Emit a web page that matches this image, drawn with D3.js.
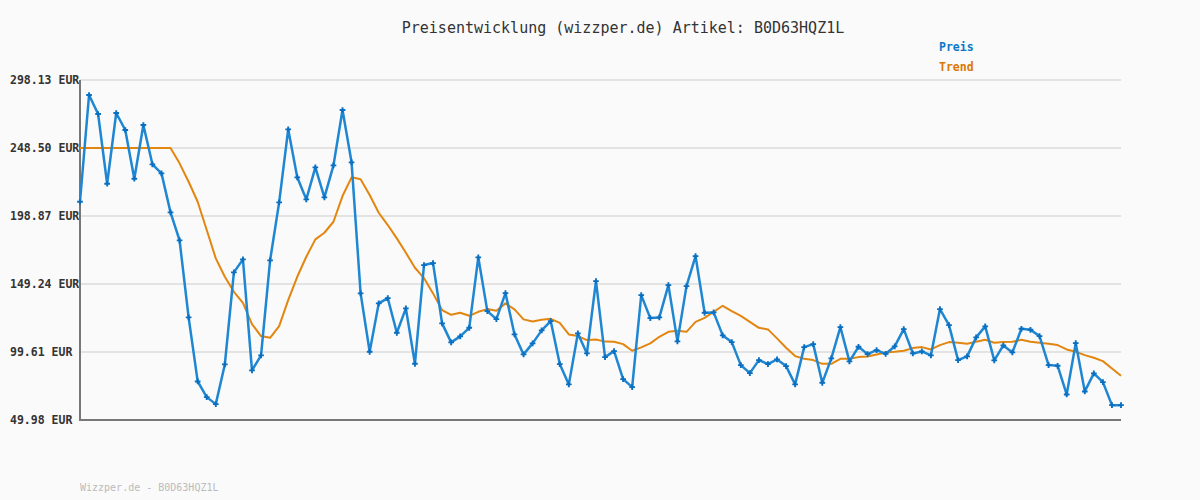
<!DOCTYPE html>
<html>
<head>
<meta charset="utf-8">
<script src="https://cdn.jsdelivr.net/npm/d3@7"></script>
<style>
  html, body { margin: 0; padding: 0; background: #fafafa; }
  svg { display: block; }
</style>
</head>
<body>
<svg id="chart" width="1200" height="500"></svg>
<script>
const titleText = "Preisentwicklung (wizzper.de) Artikel: B0D63HQZ1L";
const footerText = "Wizzper.de - B0D63HQZ1L";
const seriesNames = ["Preis", "Trend"];
const tickValues = [49.98, 99.61, 149.24, 198.87, 248.50, 298.13];
const tickLabels = ["49.98 EUR", "99.61 EUR", "149.24 EUR", "198.87 EUR", "248.50 EUR", "298.13 EUR"];

const preis = [
  209.27, 287.18, 273.30, 222.41, 274.04, 261.62, 226.06, 265.27, 236.58, 230.01,
  201.53, 181.09, 124.87, 78.13, 66.67, 61.56, 90.55, 157.72, 167.21, 86.17,
  97.12, 166.48, 208.83, 262.13, 227.09, 211.02, 234.39, 212.48, 235.85, 276.23,
  238.04, 142.39, 99.75, 135.09, 138.96, 113.62, 131.44, 90.99, 163.05, 164.51,
  120.48, 106.61, 110.99, 117.27, 168.68, 129.47, 123.62, 142.61, 112.45, 97.85,
  105.88, 115.37, 122.16, 90.77, 75.95, 113.18, 98.58, 151.37, 95.88, 100.26,
  79.82, 73.97, 141.15, 124.35, 124.87, 148.45, 107.34, 147.72, 169.62, 128.22,
  128.52, 111.72, 106.83, 90.04, 84.20, 93.69, 90.77, 94.20, 89.31, 75.95,
  103.18, 105.37, 77.12, 94.93, 117.78, 92.74, 103.40, 98.07, 100.99, 98.29,
  103.69, 116.32, 98.58, 100.04, 97.12, 130.93, 119.24, 93.69, 96.39, 110.26,
  118.29, 93.47, 104.42, 99.31, 116.54, 115.81, 111.21, 90.04, 89.53, 68.64,
  106.10, 70.83, 83.98, 77.63, 60.83, 60.83
];

const trend = [
  248.50, 248.50, 248.50, 248.50, 248.50, 248.50, 248.50, 248.50, 248.50, 248.50,
  248.50, 237.31, 223.87, 209.27, 188.61, 167.94, 154.51, 143.56, 135.53, 119.97,
  111.21, 109.97, 118.51, 137.50, 154.51, 169.11, 181.82, 186.64, 194.67, 213.43,
  227.09, 225.63, 214.16, 201.24, 192.26, 182.55, 172.03, 161.08, 153.56, 142.39,
  130.20, 126.76, 128.22, 126.03, 128.95, 130.93, 129.68, 135.09, 130.71, 123.41,
  121.94, 123.11, 123.84, 120.92, 112.45, 111.21, 108.29, 108.80, 107.19, 107.05,
  105.37, 100.48, 102.96, 105.88, 110.70, 114.35, 115.08, 114.35, 121.65, 124.57,
  128.95, 133.34, 129.47, 126.03, 121.65, 117.27, 116.10, 109.53, 102.67, 96.61,
  94.64, 93.69, 90.99, 90.99, 94.64, 94.64, 95.88, 96.39, 97.85, 99.31,
  99.75, 100.48, 102.45, 103.18, 101.50, 104.64, 106.83, 106.32, 105.59, 107.05,
  108.51, 106.32, 106.83, 107.05, 108.51, 107.05, 106.32, 105.59, 104.64, 101.50,
  99.75, 97.35, 95.37, 92.96, 87.63, 82.22
];

const svg = d3.select("#chart");
const plotLeft = 80, plotRight = 1121, plotTop = 80, plotBottom = 420;
const mono = "'DejaVu Sans Mono', monospace";

const x = d3.scaleLinear().domain([0, preis.length - 1]).range([plotLeft, plotRight]);
const y = d3.scaleLinear().domain([49.98, 298.13]).range([plotBottom, plotTop]);

svg.append("rect").attr("width", 1200).attr("height", 500).attr("fill", "#fafafa");

// title
svg.append("text")
  .attr("x", 623).attr("y", 33)
  .attr("text-anchor", "middle")
  .attr("font-family", mono).attr("font-size", 15)
  .attr("fill", "#333")
  .text(titleText);

// legend
const legendColors = ["#0a78c8", "#dd7700"];
seriesNames.forEach((n, i) => {
  svg.append("text")
    .attr("x", 939).attr("y", 51 + i * 20)
    .attr("font-family", mono).attr("font-size", 11.5).attr("font-weight", "bold")
    .attr("fill", legendColors[i])
    .text(n);
});

// grid
svg.append("g")
  .selectAll("line")
  .data(tickValues)
  .join("line")
  .attr("x1", plotLeft).attr("x2", plotRight)
  .attr("y1", d => y(d)).attr("y2", d => y(d))
  .attr("stroke", "#e3e3e3").attr("stroke-width", 2);

// y labels
svg.append("g")
  .selectAll("text")
  .data(tickValues)
  .join("text")
  .attr("x", 10)
  .attr("y", d => y(d) + 4)
  .attr("font-family", mono).attr("font-size", 11.5).attr("font-weight", "bold")
  .attr("fill", "#333")
  .text((d, i) => tickLabels[i]);

// axes
svg.append("line").attr("x1", plotLeft).attr("x2", plotLeft).attr("y1", plotTop).attr("y2", plotBottom + 1)
  .attr("stroke", "#777").attr("stroke-width", 2);
svg.append("line").attr("x1", plotLeft - 1).attr("x2", plotRight).attr("y1", plotBottom).attr("y2", plotBottom)
  .attr("stroke", "#777").attr("stroke-width", 2);

// trend line
const line = d3.line().x((d, i) => x(i)).y(d => y(d));
svg.append("path")
  .datum(trend)
  .attr("d", line)
  .attr("fill", "none")
  .attr("stroke", "#e3860f").attr("stroke-width", 2)
  .attr("stroke-linejoin", "round");

// price line
svg.append("path")
  .datum(preis)
  .attr("d", line)
  .attr("fill", "none")
  .attr("stroke", "#1f86d2").attr("stroke-width", 2.5)
  .attr("stroke-linejoin", "round");

// markers
svg.append("g")
  .selectAll("path")
  .data(preis)
  .join("path")
  .attr("transform", (d, i) => `translate(${x(i)},${y(d)})`)
  .attr("d", d3.symbol().type(d3.symbolCross).size(18))
  .attr("fill", "#0a6fc0");

// footer
svg.append("text")
  .attr("x", 80).attr("y", 491)
  .attr("font-family", mono).attr("font-size", 10)
  .attr("fill", "#bbb")
  .text(footerText);
</script>
</body>
</html>
